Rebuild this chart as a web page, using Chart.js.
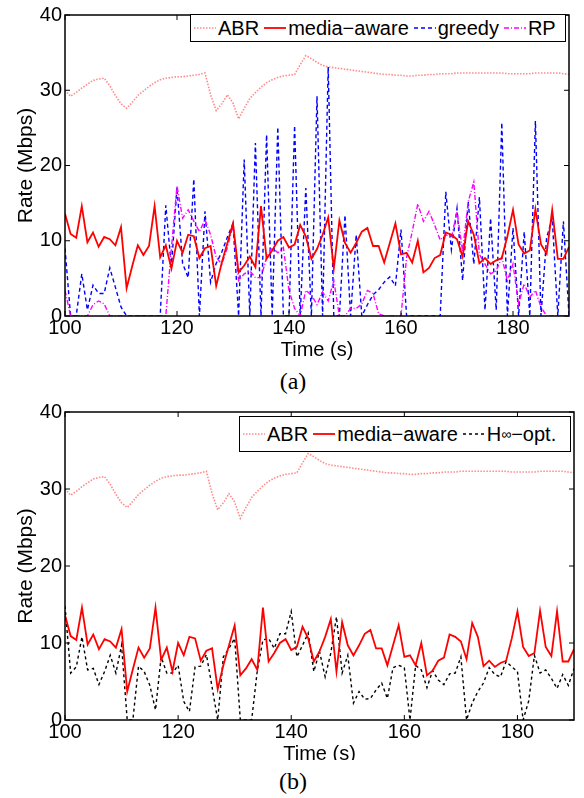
<!DOCTYPE html>
<html>
<head>
<meta charset="utf-8">
<script src="https://cdn.jsdelivr.net/npm/chart.js@4.4.1/dist/chart.umd.min.js"></script>
<style>
  body { margin: 0; background: #fff; }
  #page { position: relative; width: 584px; height: 798px; overflow: hidden; font-family: 'Liberation Sans', Arial, sans-serif; }
  #chartA { position: absolute; left: 0; top: 0; }
  #wrapB { position: absolute; left: 0; top: 395px; width: 584px; height: 365px; overflow: hidden; }
  #chartB { position: absolute; left: 0; top: 0; }
  .legend { position: absolute; box-sizing: border-box; border: 1.5px solid #000; background: #fff; display: flex; align-items: center; padding-left: 3px; font-size: 20px; color: #000; white-space: nowrap; }
  .legend .item { display: flex; align-items: center; margin-right: 5px; }
  .legend svg { margin-right: 2px; }
  .legend sup { font-size: 14px; }
  .caption { position: absolute; left: 0; width: 586px; text-align: center; font-family: 'Liberation Serif', 'DejaVu Serif', serif; font-size: 24px; line-height: 26px; }
</style>
</head>
<body>
<div id="page">
  <canvas id="chartA" width="584" height="365"></canvas>
  <div class="legend" style="left:190px; top:14px; width:376px; height:28px;">
    <span class="item"><svg width="22" height="10"><line x1="0" y1="5" x2="22" y2="5" stroke="rgba(255,60,60,0.6)" stroke-width="1.6" stroke-dasharray="1.5 1.5"/></svg>ABR</span>
    <span class="item"><svg width="22" height="10"><line x1="0" y1="5" x2="22" y2="5" stroke="#ff0000" stroke-width="1.8"/></svg>media−aware</span>
    <span class="item"><svg width="22" height="10"><line x1="0" y1="5" x2="22" y2="5" stroke="#0000ff" stroke-width="1.4" stroke-dasharray="4 3"/></svg>greedy</span>
    <span class="item"><svg width="22" height="10"><line x1="0" y1="5" x2="22" y2="5" stroke="#ff00ff" stroke-width="1.4" stroke-dasharray="5 2 1 2"/></svg>RP</span>
  </div>
  <div class="caption" style="top:368px;">(a)</div>

  <div id="wrapB"><canvas id="chartB" width="584" height="374"></canvas></div>
  <div class="legend" style="left:239px; top:416px; width:332px; height:36px;">
    <span class="item"><svg width="22" height="10"><line x1="0" y1="5" x2="22" y2="5" stroke="rgba(255,60,60,0.6)" stroke-width="1.6" stroke-dasharray="1.5 1.5"/></svg>ABR</span>
    <span class="item"><svg width="22" height="10"><line x1="0" y1="5" x2="22" y2="5" stroke="#ff0000" stroke-width="1.8"/></svg>media−aware</span>
    <span class="item"><svg width="22" height="10"><line x1="0" y1="5" x2="22" y2="5" stroke="#000" stroke-width="1.4" stroke-dasharray="3 3"/></svg>H<sup>∞</sup>−opt.</span>
  </div>
  <div class="caption" style="top:768px;">(b)</div>
</div>

<script>
// sampling instants, one per second
const time = Array.from({ length: 91 }, (_, i) => 100 + i);

const xTicks = [100, 120, 140, 160, 180];
const yTicks = [0, 10, 20, 30, 40];

// available bandwidth
const abr = [
  30.0, 29.2, 29.7, 30.3, 30.8, 31.3, 31.5, 31.6, 30.6, 29.3,
  28.2, 27.6, 28.4, 29.3, 29.9, 30.5, 31.0, 31.4, 31.6, 31.7,
  31.8, 31.8, 31.9, 32.0, 32.1, 32.3, 29.4, 27.3, 28.2, 29.4,
  28.3, 26.2, 27.6, 28.9, 29.7, 30.4, 31.0, 31.4, 31.7, 31.9,
  32.0, 32.1, 33.4, 34.6, 34.2, 33.7, 33.3, 33.1, 33.0, 32.9,
  32.8, 32.7, 32.6, 32.5, 32.4, 32.3, 32.2, 32.1, 32.1, 32.0,
  32.0, 31.9, 31.9, 32.0, 32.0, 32.1, 32.1, 32.2, 32.2, 32.2,
  32.3, 32.3, 32.3, 32.3, 32.3, 32.3, 32.3, 32.3, 32.3, 32.2,
  32.2, 32.2, 32.2, 32.2, 32.3, 32.3, 32.3, 32.3, 32.3, 32.2,
  32.1
];

const mediaAware = [
  13.6, 10.9, 10.4, 14.6,  9.8, 11.1,  9.2, 10.5, 10.2,  9.4,
  11.8,  3.7,  6.6,  9.4,  8.1,  9.3, 14.6,  7.8,  9.4,  6.3,
  10.0,  8.4, 10.8, 10.6,  7.7,  9.0,  9.3,  4.0,  7.1,  9.7,
  12.3,  5.8,  6.7,  7.9,  6.5, 14.6,  7.6,  8.7, 10.0, 10.5,
   9.1,  9.5, 12.1, 10.6,  7.6,  8.9, 10.8, 13.1,  6.3, 12.7,
   9.7,  8.4,  9.7, 11.2, 11.7,  9.3,  9.3,  7.1,  9.7, 12.3,
   8.2,  8.4,  7.1, 10.0,  5.8,  6.4,  7.7,  8.1, 11.1, 10.8,
  10.2,  7.9, 12.6, 10.8,  7.0,  7.7,  6.9,  7.4,  7.7, 10.6,
  14.1,  9.5,  8.3,  8.7, 14.2,  9.5,  8.3, 14.1,  7.6,  7.6,
   9.2
];

const greedy = [
   9.0,  0.0,  0.0,  5.6,  0.8,  4.1,  3.0,  3.0,  6.4,  3.8,
   1.2,  0.0,  0.0,  0.0,  0.0,  0.0,  0.0,  0.0, 14.7,  6.5,
  17.1,  7.0,  5.1, 18.2,  0.0, 13.9,  4.5,  7.0,  8.5, 10.5,
  12.3,  0.0, 20.8,  0.0, 23.0,  0.0, 24.1,  0.0, 25.1,  0.0,
   0.0, 25.3,  0.0, 17.0,  0.0, 29.2,  0.0, 33.1,  0.0,  0.0,
  13.4,  0.0, 10.8,  0.0,  1.5,  2.8,  3.5,  4.5,  5.2,  4.0,
  11.5,  0.0,  0.0,  0.0,  0.0,  0.0,  0.0,  0.0, 16.5,  8.8,
  14.3,  4.7, 15.2,  6.9, 15.8,  0.8, 13.0,  0.8, 25.7,  0.0,
  11.7,  0.0, 11.2,  0.0, 25.9,  0.0, 10.4, 13.0,  0.0, 12.6,
   0.0
];

const rp = [
   3.4,  0.0,  0.0,  0.0,  0.0,  1.5,  2.0,  1.6,  0.0,  0.0,
   0.0,  0.0,  0.0,  0.0,  0.0,  0.0,  0.0,  0.0,  0.0,  9.0,
  17.3, 13.0, 14.1, 12.6, 11.2, 12.8, 10.8,  7.8,  6.9,  9.1,
  12.1,  4.7,  5.6,  6.0,  5.1,  5.1,  7.8,  9.1,  8.4,  9.1,
   3.4,  1.0,  0.0,  3.4,  2.8,  1.5,  3.2,  2.0,  4.7,  0.0,
   0.0,  1.0,  1.0,  1.6,  3.4,  3.0,  0.3,  0.0,  0.0,  0.0,
   0.0,  7.8, 11.2, 14.9, 12.6, 13.9, 12.1, 10.1, 10.8, 10.4,
  13.9,  8.6, 15.2, 17.8,  8.2,  6.9,  5.6,  6.0,  7.8,  4.7,
   6.9,  1.6,  4.3,  2.5,  3.4,  1.2,  0.0,  0.0,  0.0,  0.0,
   0.0
];

const hInfOpt = [
  14.8,  6.1,  6.9, 10.8,  6.5,  6.7,  4.6,  6.3,  8.4,  6.1,
   9.7,  0.0,  0.0,  7.0,  6.3,  4.5,  1.3,  8.2,  6.1,  6.1,
   7.1,  2.4,  1.1,  6.9,  7.0,  8.5,  4.3,  0.0,  8.2,  9.3,
  10.6,  0.0,  0.0,  0.0,  6.4, 10.4, 10.6,  9.3, 11.2, 11.2,
  14.1,  8.2,  9.7, 11.3,  6.3,  8.9,  5.6,  8.7, 13.4,  6.1,
   8.4,  2.2,  3.7,  2.7,  2.8,  3.9,  4.8,  2.8,  6.8,  7.1,
   6.8,  0.0,  7.1,  6.5,  4.2,  6.4,  5.2,  4.6,  6.0,  6.1,
   8.2,  0.0,  2.2,  3.7,  4.8,  6.8,  5.9,  5.6,  7.6,  6.9,
   6.3,  0.0,  2.5,  8.4,  6.1,  6.5,  5.4,  4.1,  5.9,  4.5,
   6.7
];

Chart.defaults.font.family = "'Liberation Sans', Arial, sans-serif";
Chart.defaults.color = '#000';

const pts = vals => time.map((t, i) => ({ x: t, y: vals[i] }));

function series(label, vals, color, dash, width, order) {
  return {
    label: label,
    data: pts(vals),
    borderColor: color,
    borderDash: dash,
    borderWidth: width,
    pointRadius: 0,
    tension: 0,
    fill: false,
    order: order
  };
}

// closed box with inward tick marks on all four sides
const frame = {
  id: 'frame',
  afterDraw(chart) {
    const { ctx, chartArea: a, scales: { x, y } } = chart;
    ctx.save();
    ctx.strokeStyle = '#000';
    ctx.lineWidth = 1.5;
    ctx.strokeRect(a.left, a.top, a.right - a.left, a.bottom - a.top);
    ctx.lineWidth = 1;
    ctx.beginPath();
    xTicks.forEach(v => {
      const px = x.getPixelForValue(v);
      ctx.moveTo(px, a.bottom); ctx.lineTo(px, a.bottom - 5);
      ctx.moveTo(px, a.top); ctx.lineTo(px, a.top + 5);
    });
    yTicks.forEach(v => {
      const py = y.getPixelForValue(v);
      ctx.moveTo(a.left, py); ctx.lineTo(a.left + 5, py);
      ctx.moveTo(a.right, py); ctx.lineTo(a.right - 5, py);
    });
    ctx.stroke();
    ctx.restore();
  }
};

function options(padding) {
  return {
    responsive: false,
    animation: false,
    devicePixelRatio: 1,
    layout: { padding: padding },
    plugins: { legend: { display: false }, tooltip: { enabled: false } },
    scales: {
      x: {
        type: 'linear',
        min: 100,
        max: 190,
        afterFit: s => { s.height = 49; },
        afterBuildTicks: s => { s.ticks = xTicks.map(v => ({ value: v })); },
        grid: { display: false, drawTicks: false },
        border: { display: false },
        ticks: { padding: 0, font: { size: 20 }, color: '#000', maxRotation: 0, autoSkip: false },
        title: { display: true, text: 'Time (s)', font: { size: 20 }, color: '#000', padding: { top: 0, bottom: 3 } }
      },
      y: {
        min: 0,
        max: 40,
        afterFit: s => { s.width = 65; },
        afterBuildTicks: s => { s.ticks = yTicks.map(v => ({ value: v })); },
        grid: { display: false, drawTicks: false },
        border: { display: false },
        ticks: { padding: 3, font: { size: 20 }, color: '#000' },
        title: { display: true, text: 'Rate (Mbps)', font: { size: 21 }, color: '#000', padding: { top: 14, bottom: 0 } }
      }
    }
  };
}

document.addEventListener('DOMContentLoaded', () => {
  // (a) media-aware against greedy and RP
  new Chart(document.getElementById('chartA').getContext('2d'), {
    type: 'line',
    data: {
      datasets: [
        series('ABR', abr, 'rgba(255,60,60,0.6)', [1.5, 1.5], 1.6, 4),
        series('media-aware', mediaAware, '#ff0000', [], 1.8, 1),
        series('greedy', greedy, '#0000ff', [4, 3], 1.4, 3),
        series('RP', rp, '#ff00ff', [5, 2, 1, 2], 1.4, 2)
      ]
    },
    options: options({ left: 0, top: 10, right: 15, bottom: 0 }),
    plugins: [frame]
  });

  // (b) media-aware against the H-infinity optimum
  new Chart(document.getElementById('chartB').getContext('2d'), {
    type: 'line',
    data: {
      datasets: [
        series('ABR', abr, 'rgba(255,60,60,0.6)', [1.5, 1.5], 1.6, 3),
        series('media-aware', mediaAware, '#ff0000', [], 1.8, 1),
        series('H∞-opt.', hInfOpt, '#000000', [3, 3], 1.4, 2)
      ]
    },
    options: options({ left: 0, top: 17, right: 10, bottom: 0 }),
    plugins: [frame]
  });
});
</script>
</body>
</html>
